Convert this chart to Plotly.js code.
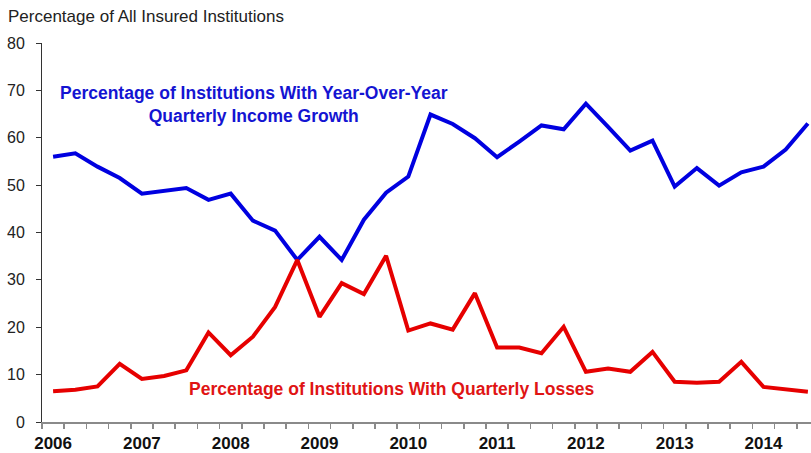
<!DOCTYPE html>
<html>
<head>
<meta charset="utf-8">
<script src="https://cdn.plot.ly/plotly-3.0.1.min.js"></script>
<style>html,body{margin:0;padding:0;overflow:hidden;background:#fff}</style>
</head>
<body>
<div id="chart" style="width:811px;height:453px"></div>
<script>
// Quarterly, 2006Q1 .. 2014Q3
var quarters = [
  "2006Q1","2006Q2","2006Q3","2006Q4",
  "2007Q1","2007Q2","2007Q3","2007Q4",
  "2008Q1","2008Q2","2008Q3","2008Q4",
  "2009Q1","2009Q2","2009Q3","2009Q4",
  "2010Q1","2010Q2","2010Q3","2010Q4",
  "2011Q1","2011Q2","2011Q3","2011Q4",
  "2012Q1","2012Q2","2012Q3","2012Q4",
  "2013Q1","2013Q2","2013Q3","2013Q4",
  "2014Q1","2014Q2","2014Q3"
];
var incomeGrowth = [
  56.0, 56.7, 53.9, 51.5,
  48.2, 48.8, 49.4, 46.9,
  48.2, 42.5, 40.4, 34.2,
  39.1, 34.2, 42.7, 48.4,
  51.8, 64.9, 62.9, 59.9,
  55.9, 59.2, 62.6, 61.8,
  67.2, 62.3, 57.3, 59.4,
  49.7, 53.6, 49.9, 52.7,
  53.9, 57.5, 63.0
];
var quarterlyLosses = [
  6.5, 6.8, 7.5, 12.3,
  9.1, 9.7, 10.9, 18.9,
  14.1, 18.0, 24.3, 34.2,
  22.2, 29.3, 27.0, 35.1,
  19.3, 20.8, 19.5, 27.2,
  15.7, 15.7, 14.5, 20.1,
  10.6, 11.3, 10.6, 14.8,
  8.5, 8.3, 8.5, 12.7,
  7.4, 6.9, 6.4
];
var yearLabels = ["2006","2007","2008","2009","2010","2011","2012","2013","2014"];
var yTicks = [0,10,20,30,40,50,60,70,80];

var idx = quarters.map(function(q,i){return i;});
var yearPos = yearLabels.map(function(y){return quarters.indexOf(y+"Q1");});

var FONT = "Arial, 'Liberation Sans', sans-serif";

var traces = [
  {x: idx, y: incomeGrowth, type: "scatter", mode: "lines",
   line: {color: "#0000e0", width: 4}, hoverinfo: "skip"},
  {x: idx, y: quarterlyLosses, type: "scatter", mode: "lines",
   line: {color: "#e60000", width: 4}, hoverinfo: "skip"}
];

var layout = {
  width: 811, height: 453,
  margin: {l: 42, r: 0, t: 43, b: 31, pad: 0},
  paper_bgcolor: "#fff", plot_bgcolor: "#fff",
  showlegend: false,
  font: {family: FONT, color: "#222"},
  title: {
    text: "Percentage of All Insured Institutions",
    font: {family: FONT, size: 17, color: "#222"},
    xref: "container", yref: "container",
    x: 8/811, xanchor: "left", y: 1 - 16.5/453, yanchor: "middle"
  },
  xaxis: {
    range: [-0.5, 34.14],
    showgrid: false, zeroline: false,
    showline: true, linecolor: "#8a8a8a", linewidth: 2,
    tickmode: "array", tickvals: yearPos, ticktext: yearLabels,
    ticks: "outside", ticklen: 5, tickcolor: "rgba(0,0,0,0)",
    tickfont: {family: FONT, size: 17, color: "#111", weight: "bold"},
    minor: {tick0: -0.5, dtick: 1, ticks: "outside", ticklen: 5, tickcolor: "#8a8a8a", tickwidth: 1.5, showgrid: false},
    fixedrange: true
  },
  yaxis: {
    range: [0, 80],
    showgrid: false, zeroline: false,
    showline: true, linecolor: "#333", linewidth: 1,
    tickmode: "array", tickvals: yTicks,
    ticks: "outside", ticklen: 5, tickcolor: "#333",
    ticklabelstandoff: 8,
    tickfont: {family: FONT, size: 16, color: "#222"},
    fixedrange: true
  },
  annotations: [
    {x: 9.07, y: 67.0, xref: "x", yref: "y", showarrow: false,
     text: "Percentage of Institutions With Year-Over-Year<br>Quarterly Income Growth",
     align: "center", xanchor: "center", yanchor: "middle",
     font: {family: FONT, size: 17.5, color: "#1414d2", weight: "bold"}},
    {x: 15.27, y: 6.9, xref: "x", yref: "y", showarrow: false,
     text: "Percentage of Institutions With Quarterly Losses",
     xanchor: "center", yanchor: "middle",
     font: {family: FONT, size: 17.5, color: "#e01414", weight: "bold"}}
  ]
};

Plotly.newPlot("chart", traces, layout, {staticPlot: true, displayModeBar: false});
</script>
</body>
</html>
